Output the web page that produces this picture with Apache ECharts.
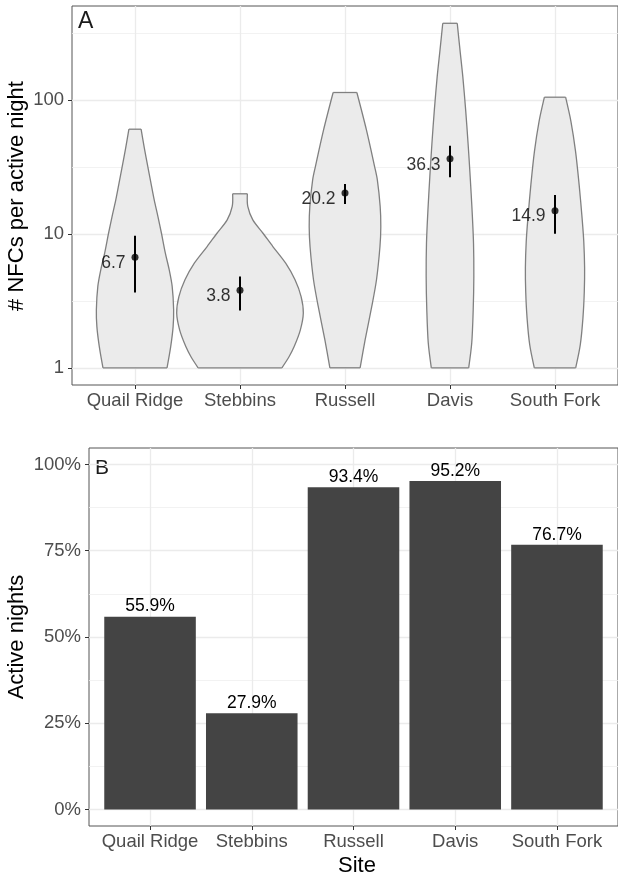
<!DOCTYPE html>
<html>
<head>
<meta charset="utf-8">
<script src="https://cdn.jsdelivr.net/npm/echarts@6/dist/echarts.min.js"></script>
<style>
  html, body { margin: 0; padding: 0; background: #fff; }
  #chart { width: 618px; height: 875px; }
</style>
</head>
<body>
<div id="chart"></div>
<script>
    // sites (x categories)
    var sites = ['Quail Ridge', 'Stebbins', 'Russell', 'Davis', 'South Fork']
    // panel A: mean NFCs per active night with CI
    var meanNfc = [6.7, 3.8, 20.2, 36.3, 14.9]
    var ciLow = [3.65, 2.68, 16.7, 26.5, 10.0]
    var ciHigh = [9.66, 4.8, 23.5, 45.4, 19.5]
    // panel B: share of active nights (%)
    var activePct = [55.9, 27.9, 93.4, 95.2, 76.7]
    // tick labels
    var logTicks = [1, 10, 100]
    var logMinor = [3.162, 31.62, 316.2]
    var pctTicks = [0, 25, 50, 75, 100]
    var pctMinor = [12.5, 37.5, 62.5, 87.5]

    // violin outlines: [NFCs per night, half width in site units]
    var violinQuailRidge = [[1, 0.305], [1.44, 0.340], [2.03, 0.363], [2.71, 0.368], [4.05, 0.354], [5.38, 0.326], [7.18, 0.289], [10.1, 0.252], [13.5, 0.218], [17.9, 0.183], [23.9, 0.152], [31.8, 0.122], [43.6, 0.089], [60.4, 0.058]]
    var violinStebbins = [[1, 0.399], [1.21, 0.467], [1.44, 0.516], [1.92, 0.575], [2.56, 0.603], [3.40, 0.582], [4.54, 0.524], [6.04, 0.435], [8.04, 0.313], [10.1, 0.219], [12.7, 0.122], [16.0, 0.074], [19.9, 0.070]]
    var violinRussell = [[1, 0.144], [1.62, 0.192], [2.87, 0.255], [4.54, 0.300], [8.04, 0.333], [11.3, 0.341], [16.0, 0.335], [25.3, 0.308], [31.8, 0.282], [59.7, 0.204], [113.5, 0.113]]
    var violinDavis = [[1, 0.178], [1.53, 0.207], [2.71, 0.221], [4.80, 0.227], [8.51, 0.224], [15.1, 0.210], [26.8, 0.192], [47.5, 0.172], [84.2, 0.149], [149, 0.122], [236, 0.095], [373, 0.069]]
    var violinSouthFork = [[1, 0.197], [1.49, 0.241], [2.35, 0.266], [3.71, 0.279], [5.55, 0.282], [8.77, 0.274], [13.1, 0.258], [23.2, 0.230], [41.1, 0.196], [68.9, 0.152], [104.7, 0.101]]
    var violins = [violinQuailRidge, violinStebbins, violinRussell, violinDavis, violinSouthFork]

    var FONT = '"Liberation Sans", Arial, sans-serif'
    var siteIdx = sites.map(function (s, i) { return i })

    function xAxisFor(gridIndex) {
        return {
            type: 'value', gridIndex: gridIndex, min: -0.6, max: 4.6,
            axisLine: { show: false, onZero: false },
            axisTick: { show: true, length: 4, customValues: siteIdx, lineStyle: { color: '#333' } },
            axisLabel: {
                customValues: siteIdx, margin: 6, color: '#4d4d4d', fontSize: 18.5, fontFamily: FONT,
                formatter: function (v) { return sites[Math.round(v)] }
            },
            splitLine: { show: true, lineStyle: { color: '#ebebeb', width: 1.3 } }
        }
    }

    // 绘制小提琴形状
    function renderViolin(params, api) {
        var i = params.dataIndex
        var prof = violins[i]
        var right = prof.map(function (p) { return api.coord([i + p[1], p[0]]) })
        var left = prof.map(function (p) { return api.coord([i - p[1], p[0]]) })
        var poly = right.concat(left.slice().reverse())
        var edge = { stroke: '#808080', lineWidth: 1.3, fill: null }
        var n = prof.length - 1
        return {
            type: 'group',
            children: [
                { type: 'polygon', shape: { points: poly }, style: { fill: '#ebebeb', stroke: null } },
                { type: 'polyline', shape: { points: right, smooth: 0.3 }, style: edge },
                { type: 'polyline', shape: { points: left, smooth: 0.3 }, style: edge },
                { type: 'line', shape: { x1: left[0][0], y1: left[0][1], x2: right[0][0], y2: right[0][1] }, style: edge },
                { type: 'line', shape: { x1: left[n][0], y1: left[n][1], x2: right[n][0], y2: right[n][1] }, style: edge }
            ]
        }
    }

    function renderErrBar(params, api) {
        var i = params.dataIndex
        var a = api.coord([i, ciLow[i]])
        var b = api.coord([i, ciHigh[i]])
        return { type: 'line', shape: { x1: a[0], y1: a[1], x2: b[0], y2: b[1] }, style: { stroke: '#000', lineWidth: 2 } }
    }

    var option = {
        animation: false,
        backgroundColor: '#fff',
        grid: [
            { left: 72, right: -7, top: 6, bottom: 490, show: true, borderColor: '#555', borderWidth: 1, backgroundColor: '#fff' },
            { left: 89, right: -7, top: 448, bottom: 49, show: true, borderColor: '#555', borderWidth: 1, backgroundColor: '#fff' }
        ],
        xAxis: [xAxisFor(0), xAxisFor(1)],
        yAxis: [
            {
                type: 'log', gridIndex: 0, min: 0.744, max: 502,
                axisLine: { show: false, onZero: false },
                axisTick: { show: true, length: 4, customValues: logTicks, lineStyle: { color: '#333' } },
                axisLabel: { customValues: logTicks, margin: 8, color: '#4d4d4d', fontSize: 18.5, fontFamily: FONT },
                splitLine: { show: true, lineStyle: { color: '#ebebeb', width: 1.3 } }
            },
            {
                type: 'log', gridIndex: 0, min: 0.744, max: 502, position: 'left',
                axisLine: { show: false, onZero: false },
                axisTick: { show: false, customValues: logMinor },
                axisLabel: { show: false, customValues: logMinor },
                splitLine: { show: true, lineStyle: { color: '#efefef', width: 0.8 } }
            },
            {
                type: 'value', gridIndex: 1, min: -4.76, max: 104.76,
                axisLine: { show: false, onZero: false },
                axisTick: { show: true, length: 4, customValues: pctTicks, lineStyle: { color: '#333' } },
                axisLabel: {
                    customValues: pctTicks, margin: 8, color: '#4d4d4d', fontSize: 18.5, fontFamily: FONT,
                    formatter: function (v) { return v + '%' }
                },
                splitLine: { show: true, lineStyle: { color: '#ebebeb', width: 1.3 } }
            },
            {
                type: 'value', gridIndex: 1, min: -4.76, max: 104.76, position: 'left',
                axisLine: { show: false, onZero: false },
                axisTick: { show: false, customValues: pctMinor },
                axisLabel: { show: false, customValues: pctMinor },
                splitLine: { show: true, lineStyle: { color: '#efefef', width: 0.8 } }
            }
        ],
        series: [
            {
                type: 'custom', xAxisIndex: 0, yAxisIndex: 0,
                renderItem: renderViolin,
                data: sites.map(function (s, i) { return [i, 1] })
            },
            {
                type: 'custom', xAxisIndex: 0, yAxisIndex: 0,
                renderItem: renderErrBar,
                encode: { x: 0, y: [1, 2] },
                data: sites.map(function (s, i) { return [i, ciLow[i], ciHigh[i]] }),
                z: 3
            },
            {
                type: 'scatter', xAxisIndex: 0, yAxisIndex: 0,
                symbolSize: 7, itemStyle: { color: '#000' }, z: 4,
                data: sites.map(function (s, i) { return [i, meanNfc[i]] }),
                label: {
                    show: true, position: 'left', distance: 6, offset: [0, 6],
                    color: '#000', fontSize: 17.5, fontFamily: FONT,
                    formatter: function (p) { return p.value[1].toFixed(1) }
                }
            },
            {
                type: 'bar', xAxisIndex: 1, yAxisIndex: 2,
                barWidth: '90%',
                itemStyle: { color: '#444444' },
                data: sites.map(function (s, i) { return [i, activePct[i]] }),
                label: {
                    show: true, position: 'top', distance: 1,
                    color: '#000', fontSize: 17.5, fontFamily: FONT,
                    formatter: function (p) { return p.value[1].toFixed(1) + '%' }
                }
            }
        ],
        graphic: [
            { type: 'text', x: 78, y: 22, style: { text: 'A', fontSize: 23, fontFamily: FONT, fill: '#1a1a1a', align: 'left', verticalAlign: 'middle', textAlign: 'left', textVerticalAlign: 'middle' } },
            { type: 'text', x: 95, y: 468, style: { text: 'B', fontSize: 21, fontFamily: FONT, fill: '#1a1a1a', align: 'left', verticalAlign: 'middle', textAlign: 'left', textVerticalAlign: 'middle' } },
            { type: 'text', x: 17, y: 196, rotation: Math.PI / 2, style: { text: '# NFCs per active night', fontSize: 22, fontFamily: FONT, fill: '#000', align: 'center', verticalAlign: 'middle', textAlign: 'center', textVerticalAlign: 'middle' } },
            { type: 'text', x: 17, y: 637, rotation: Math.PI / 2, style: { text: 'Active nights', fontSize: 22, fontFamily: FONT, fill: '#000', align: 'center', verticalAlign: 'middle', textAlign: 'center', textVerticalAlign: 'middle' } },
            { type: 'text', x: 357, y: 866, style: { text: 'Site', fontSize: 22, fontFamily: FONT, fill: '#000', align: 'center', verticalAlign: 'middle', textAlign: 'center', textVerticalAlign: 'middle' } }
        ]
    }

    var chart = echarts.init(document.getElementById('chart'))
    chart.setOption(option)
</script>
</body>
</html>
